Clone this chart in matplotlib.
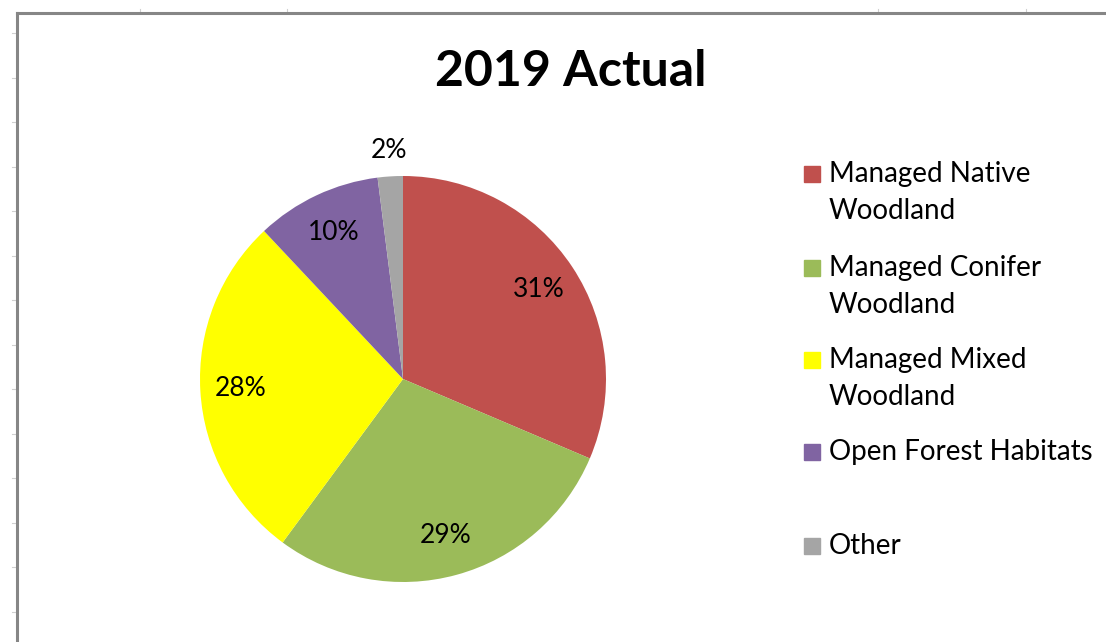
import numpy as np
import matplotlib.pyplot as plt
from matplotlib.patches import Rectangle
from matplotlib.lines import Line2D

plt.rcParams['font.family'] = ['Lato', 'DejaVu Sans']

# data
categories = ["Managed Native\nWoodland", "Managed Conifer\nWoodland",
              "Managed Mixed\nWoodland", "Open Forest Habitats", "Other"]
shares = [31.4, 28.7, 27.9, 10.0, 2.0]
colors = ["#C0504D", "#9BBB59", "#FFFF00", "#8064A2", "#A5A5A5"]

W, H = 1106, 642
fig = plt.figure(figsize=(W / 100, H / 100), dpi=100)
fig.patch.set_facecolor("white")

def fx(px):
    return px / W

def fy(py):
    return 1 - py / H

# faint spreadsheet gridline stubs outside the chart frame
for x in [140, 287, 878, 1026]:
    fig.add_artist(Line2D([fx(x), fx(x)], [fy(9), fy(13)], color="#d0d0d0", lw=0.8))
for y in np.arange(33, 642, 44.5):
    fig.add_artist(Line2D([fx(12), fx(17)], [fy(y), fy(y)], color="#d0d0d0", lw=0.8))

# chart frame (left and top edges visible)
fig.add_artist(Line2D([fx(17), fx(17)], [fy(13), 0], color="#868686", lw=2.2))
fig.add_artist(Line2D([fx(17), 1], [fy(13), fy(13)], color="#868686", lw=2.2))

# pie
cx, cy, r = 403, 379, 203
ax = fig.add_axes([fx(cx - r), fy(cy + r), 2 * r / W, 2 * r / H])
wedges, texts, autotexts = ax.pie(shares, colors=colors, startangle=90, counterclock=False,
                                  autopct="%.0f%%", pctdistance=0.8, radius=1,
                                  textprops=dict(fontsize=19, color="black"),
                                  wedgeprops=dict(linewidth=0))
# the small slice gets its label outside
theta = np.deg2rad((wedges[-1].theta1 + wedges[-1].theta2) / 2)
autotexts[-1].set_position((1.13 * np.cos(theta), 1.13 * np.sin(theta)))
ax.set_xlim(-1, 1)
ax.set_ylim(-1, 1)
ax.set_aspect("equal")
ax.axis("off")

fig.text(fx(571), fy(72), "2019 Actual", fontsize=36, fontweight="bold",
         ha="center", va="center")

# legend drawn like the Excel one: swatch beside the first line
entry_y = [174, 268, 360, 452, 546]
for label, col, y in zip(categories, colors, entry_y):
    fig.add_artist(Rectangle((fx(804), fy(y + 8)), 16 / W, 16 / H, color=col,
                             transform=fig.transFigure))
    for i, line in enumerate(label.split("\n")):
        fig.text(fx(829), fy(y + 37 * i), line, fontsize=20, ha="left", va="center")

fig.savefig("out.png", dpi=100)
